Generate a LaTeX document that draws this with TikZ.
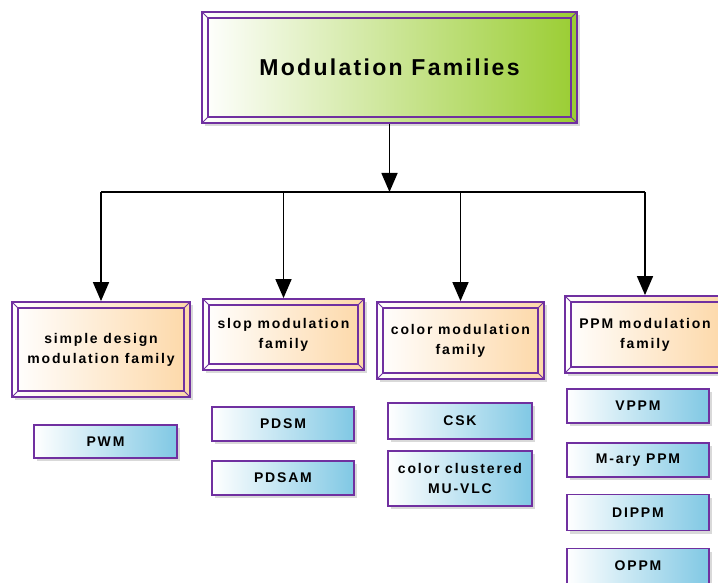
\documentclass[tikz,border=0pt]{standalone}
\usepackage{fontspec}
\setmainfont{Liberation Sans}
\newfontfamily\titlefont[LetterSpace=10]{Liberation Sans}
\newfontfamily\boxfont[LetterSpace=13]{Liberation Sans}
\usetikzlibrary{arrows.meta,calc,positioning,shadows}
\definecolor{framepurple}{RGB}{112,48,160}
\definecolor{topgreen}{RGB}{154,205,50}
\definecolor{midpeach}{RGB}{253,216,168}
\definecolor{leafblue}{RGB}{128,200,228}

\tikzset{
  boxshadow/.style={drop shadow={shadow xshift=3pt,shadow yshift=-3pt,fill=black!25,opacity=0.6}},
  bevel/.style={rectangle, draw=framepurple, line width=1.8pt, inner sep=0pt, align=center, boxshadow,
    path picture={
      \draw[framepurple,line width=1.3pt]
        ([shift={(6pt,-6pt)}]path picture bounding box.north west) rectangle
        ([shift={(-6pt,6pt)}]path picture bounding box.south east);
      \foreach \c/\dx/\dy in {north west/6/-6,north east/-6/-6,south west/6/6,south east/-6/6}
        \draw[framepurple,line width=0.9pt] (path picture bounding box.\c) -- ++(\dx pt,\dy pt);
    }},
  topbox/.style={bevel, left color=white, right color=topgreen,
    font=\titlefont\bfseries\fontsize{23}{28}\selectfont},
  familybox/.style={bevel, left color=white, right color=midpeach,
    font=\boxfont\bfseries\fontsize{14}{20}\selectfont},
  leafbox/.style={rectangle, draw=framepurple, line width=1.8pt, inner sep=0pt, align=center, boxshadow,
    left color=white, right color=leafblue, minimum width=142pt,
    font=\boxfont\bfseries\fontsize{14}{20}\selectfont},
  branch/.style={black, line width=1.6pt, -{Triangle[length=19pt,width=16pt]}},
}

\begin{document}
\begin{tikzpicture}[x=1pt,y=-1pt]
  \useasboundingbox (0,0) rectangle (718,583);

  \node[topbox, minimum width=375pt, minimum height=111pt] (top) at (389.5,67.5) {Modulation Families};

  \node[familybox, minimum width=178pt, minimum height=95pt] (simple) at (101,349.5) {simple design\\modulation family};
  \node[familybox, minimum width=161pt, minimum height=71pt] (slop) at (283.5,334.5) {slop modulation\\family};
  \node[familybox, minimum width=167pt, minimum height=77pt] (color) at (460.5,340.5) {color modulation\\family};
  \node[familybox, minimum width=160pt, minimum height=77pt] (ppm) at (645,334.5) {PPM modulation\\family};

  \node[leafbox, minimum width=143pt, minimum height=33pt] (pwm) at (105.5,441.5) {PWM};
  \node[leafbox, minimum height=34pt] (pdsm) at (283,424) {PDSM};
  \node[leafbox, minimum height=34pt] (pdsam) at (283,478) {PDSAM};
  \node[leafbox, minimum width=144pt, minimum height=36pt] (csk) at (460,421) {CSK};
  \node[leafbox, minimum width=144pt, minimum height=55pt] (muvlc) at (460,478.5) {color clustered\\MU-VLC};
  \node[leafbox, minimum height=34pt] (vppm) at (638,406) {VPPM};
  \node[leafbox, minimum height=34pt] (mary) at (638,460) {M-ary PPM};
  \node[leafbox, minimum height=36pt] (dippm) at (638,512.5) {DIPPM};
  \node[leafbox, minimum height=35pt] (oppm) at (638,566) {OPPM};

  \coordinate (hub) at (389.5,192);
  \draw[branch] (top) -- (hub);
  \draw[black, line width=1.6pt] (hub -| simple.north) -- (hub -| ppm.north);
  \foreach \n in {simple,slop,color,ppm}
    \draw[branch] (hub -| \n.north) -- (\n.north);
\end{tikzpicture}
\end{document}
